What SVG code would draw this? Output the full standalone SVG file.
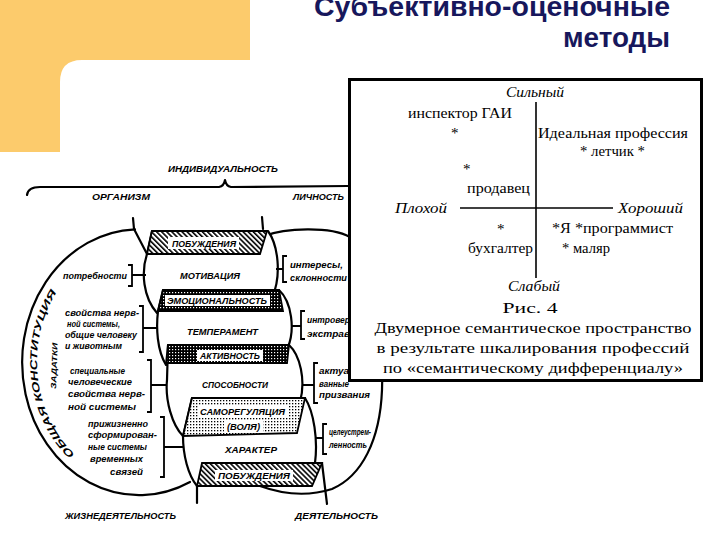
<svg xmlns="http://www.w3.org/2000/svg" width="720" height="540" viewBox="0 0 720 540">
<style>
.lb{font-family:"Liberation Sans",Arial,sans-serif;font-weight:bold;font-style:italic;font-size:8.5px;fill:#000}
.sr{font-family:"Liberation Serif","Times New Roman",serif;font-size:15px;fill:#000}
.it{font-style:italic}
.ttl{font-family:"Liberation Sans",Arial,sans-serif;font-weight:bold;font-size:27px;fill:#17175c}
.ol{fill:none;stroke:#000;stroke-width:2.2;stroke-linejoin:round;stroke-linecap:round}
.br{fill:#fff;stroke:#000;stroke-width:2.2;stroke-linejoin:round}
.ln{stroke:#000;stroke-width:1.8;fill:none}
.lbl{fill:#fff}
</style>
<defs>
<pattern id="hatch" width="3.6" height="3.6" patternUnits="userSpaceOnUse" patternTransform="rotate(-45)"><rect width="3.6" height="3.6" fill="#fff"/><rect x="0" y="0" width="1.6" height="3.6" fill="#000"/></pattern>
<pattern id="check" width="3" height="3" patternUnits="userSpaceOnUse"><rect width="3" height="3" fill="#000"/><rect x="1" y="1" width="1.2" height="1.2" fill="#fff"/></pattern>
<pattern id="dots" width="3" height="3" patternUnits="userSpaceOnUse"><rect width="3" height="3" fill="#fff"/><rect x="1" y="1" width="1.3" height="1.3" fill="#000"/></pattern>
<path id="arcL" d="M 140,481 A 103,119 0 0,1 140,243"/>
</defs>
<rect width="720" height="540" fill="#fff"/>
<path id="corner" d="M0,0 H250 V60 H82 Q60,60 60,82 V152 H0 Z" fill="#fccb6c"/>
<g id="title">
<text class="ttl" x="670" y="16" text-anchor="end" textLength="356" lengthAdjust="spacingAndGlyphs">Субъективно-оценочные</text>
<text class="ttl" x="670" y="47" text-anchor="end" textLength="107" lengthAdjust="spacingAndGlyphs">методы</text>
</g>

<g id="scheme">
<g id="top-labels">
<text class="lb" x="168" y="172" textLength="110" lengthAdjust="spacingAndGlyphs">ИНДИВИДУАЛЬНОСТЬ</text>
<path class="ol" d="M27,195 Q28,187 40,187 L219,187 Q224,186 225,180 Q226,186 231,187 L348,186"/>
<text class="lb" x="92" y="200" textLength="58" lengthAdjust="spacingAndGlyphs">ОРГАНИЗМ</text>
<text class="lb" x="293" y="200" textLength="51" lengthAdjust="spacingAndGlyphs">ЛИЧНОСТЬ</text>
<text class="lb" x="65" y="519" textLength="111" lengthAdjust="spacingAndGlyphs">ЖИЗНЕДЕЯТЕЛЬНОСТЬ</text>
<text class="lb" x="295" y="519" textLength="83" lengthAdjust="spacingAndGlyphs">ДЕЯТЕЛЬНОСТЬ</text>
</g>

<g id="lobes">
<path class="ol" d="M135,229.3 A117,133 0 1,0 190,482"/>
<path class="ol" d="M264,236 C285,228 330,226 350,237 C372,255 384,320 382,390 C380,440 362,476 332,489 C307,497 282,494 260,486"/>
<path class="ol" d="M133,218 L134,229 L147,254"/>
<path class="ol" d="M262,217 L263,229"/>
<path class="ol" d="M197,486 L197,503"/>
<path class="ol" d="M322,463 L327,504"/>
<text class="lb" style="font-size:10px"><textPath href="#arcL" startOffset="72" textLength="176" lengthAdjust="spacingAndGlyphs">ОБЩАЯ КОНСТИТУЦИЯ</textPath></text>
<text class="lb" style="font-size:7.5px" transform="translate(56,389) rotate(-88)" textLength="46" lengthAdjust="spacingAndGlyphs">ЗАДАТКИ</text>
</g>

<g id="motivation">
<path class="br" d="M152,231 L268,231 C278,245 282,275 272,298 L157,313 C143,297 141,272 147,254 Z"/>
<path d="M152,231 L267,231 L260,254 L147,254 Z" fill="url(#hatch)" stroke="#000" stroke-width="1.8"/>
<rect class="lbl" x="168" y="237" width="71" height="12"/>
<text class="lb" x="172" y="246.5" textLength="64" lengthAdjust="spacingAndGlyphs">ПОБУЖДЕНИЯ</text>
<text class="lb" x="180" y="279" textLength="60" lengthAdjust="spacingAndGlyphs">МОТИВАЦИЯ</text>
</g>

<g id="temperament">
<path class="br" d="M163,290 L279,290 C292,302 295,330 288,347 L166,365 C157,350 156,328 158,311 Z"/>
<path d="M163,290 L279,290 L283,311 L158,311 Z" fill="url(#check)" stroke="#000" stroke-width="1.8"/>
<rect class="lbl" x="165" y="295" width="105" height="11"/>
<text class="lb" x="167" y="304" textLength="100" lengthAdjust="spacingAndGlyphs">ЭМОЦИОНАЛЬНОСТЬ</text>
<text class="lb" x="187" y="335" textLength="71" lengthAdjust="spacingAndGlyphs">ТЕМПЕРАМЕНТ</text>
</g>

<g id="abilities">
<path class="br" d="M168,345 L289,345 C300,355 306,380 300,402 L183,436 C172,425 165,400 167,380 Z"/>
<path d="M168,345 L289,345 L287,363 L166,363 Z" fill="url(#check)" stroke="#000" stroke-width="1.8"/>
<rect class="lbl" x="197" y="350" width="66" height="11"/>
<text class="lb" x="200" y="359" textLength="60" lengthAdjust="spacingAndGlyphs">АКТИВНОСТЬ</text>
<text class="lb" x="202" y="388" textLength="66" lengthAdjust="spacingAndGlyphs">СПОСОБНОСТИ</text>
</g>

<g id="character">
<path class="br" d="M192,398 L305,398 C314,412 318,440 315,463 L197,486 C188,475 183,455 183,436 Z"/>
<path d="M192,398 L305,398 L297,433 L183,436 Z" fill="url(#dots)" stroke="#000" stroke-width="1.8"/>
<rect class="lbl" x="198" y="406" width="90" height="11"/>
<text class="lb" x="200" y="415" textLength="85" lengthAdjust="spacingAndGlyphs">САМОРЕГУЛЯЦИЯ</text>
<rect class="lbl" x="224" y="421" width="39" height="11"/>
<text class="lb" x="227" y="430" textLength="33" lengthAdjust="spacingAndGlyphs">(ВОЛЯ)</text>
<text class="lb" x="225" y="453" textLength="52" lengthAdjust="spacingAndGlyphs">ХАРАКТЕР</text>
<path d="M202,463 L322,463 L312,486 L197,486 Z" fill="url(#hatch)" stroke="#000" stroke-width="1.8"/>
<rect class="lbl" x="215" y="470" width="78" height="11"/>
<text class="lb" x="218" y="479" textLength="72" lengthAdjust="spacingAndGlyphs">ПОБУЖДЕНИЯ</text>
</g>

<g id="connectors">
<path class="ln" d="M128,265 H132 V286 H128 M132,275 H146"/>
<path class="ln" d="M139,306 H143 V352 H139 M143,328 H158"/>
<path class="ln" d="M147,360 H151 V412 H147 M151,385 H167"/>
<path class="ln" d="M160,417 H164 V477 H160 M164,447 H184"/>
<path class="ln" d="M287,256 H283 V282 H287 M283,269 H276"/>
<path class="ln" d="M305,311 H301 V339 H305 M301,326 H291"/>
<path class="ln" d="M318,363 H314 V403 H318 M314,385 H302"/>
<path class="ln" d="M327,424 H323 V454 H327 M323,438 H316"/>
</g>

<g id="side-texts">
<text class="lb" x="63" y="279" textLength="64" lengthAdjust="spacingAndGlyphs">потребности</text>
<text class="lb" x="65" y="316" textLength="74" lengthAdjust="spacingAndGlyphs">свойства нерв-</text>
<text class="lb" x="67" y="327" textLength="53" lengthAdjust="spacingAndGlyphs">ной системы,</text>
<text class="lb" x="65" y="338" textLength="72" lengthAdjust="spacingAndGlyphs">общие человеку</text>
<text class="lb" x="65" y="349" textLength="57" lengthAdjust="spacingAndGlyphs">и животным</text>
<text class="lb" x="70" y="374" textLength="55" lengthAdjust="spacingAndGlyphs">специальные</text>
<text class="lb" x="68" y="385" textLength="64" lengthAdjust="spacingAndGlyphs">человеческие</text>
<text class="lb" x="68" y="397" textLength="77" lengthAdjust="spacingAndGlyphs">свойства нерв-</text>
<text class="lb" x="68" y="410" textLength="68" lengthAdjust="spacingAndGlyphs">ной системы</text>
<text class="lb" x="88" y="427" textLength="60" lengthAdjust="spacingAndGlyphs">прижизненно</text>
<text class="lb" x="88" y="438" textLength="69" lengthAdjust="spacingAndGlyphs">сформирован-</text>
<text class="lb" x="88" y="450" textLength="59" lengthAdjust="spacingAndGlyphs">ные системы</text>
<text class="lb" x="90" y="462" textLength="53" lengthAdjust="spacingAndGlyphs">временных</text>
<text class="lb" x="110" y="475" textLength="33" lengthAdjust="spacingAndGlyphs">связей</text>
<text class="lb" x="290" y="268" textLength="53" lengthAdjust="spacingAndGlyphs">интересы,</text>
<text class="lb" x="290" y="281" textLength="57" lengthAdjust="spacingAndGlyphs">склонности</text>
<text class="lb" x="307" y="323" textLength="43" lengthAdjust="spacingAndGlyphs">интровер</text>
<text class="lb" x="307" y="337" textLength="43" lengthAdjust="spacingAndGlyphs">экстрав</text>
<text class="lb" x="319" y="374" textLength="30" lengthAdjust="spacingAndGlyphs">актуа</text>
<text class="lb" x="319" y="387" textLength="30" lengthAdjust="spacingAndGlyphs">ванные</text>
<text class="lb" x="319" y="398" textLength="51" lengthAdjust="spacingAndGlyphs">призвания</text>
<text class="lb" x="329" y="435" textLength="42" lengthAdjust="spacingAndGlyphs">целеустрем-</text>
<text class="lb" x="329" y="448" textLength="38" lengthAdjust="spacingAndGlyphs">ленность</text>
</g>
</g>

<g id="semantic-box">
<rect x="349.5" y="79.5" width="352" height="301" fill="#fff" stroke="#000" stroke-width="3"/>
<line x1="536" y1="102" x2="536" y2="278" stroke="#000" stroke-width="1.6"/>
<line x1="460" y1="208" x2="613" y2="208" stroke="#000" stroke-width="1.6"/>
<text class="sr it" x="535" y="97" text-anchor="middle" textLength="58" lengthAdjust="spacingAndGlyphs">Сильный</text>
<text class="sr" x="408" y="118" textLength="104" lengthAdjust="spacingAndGlyphs">инспектор ГАИ</text>
<text class="sr" x="451" y="138">*</text>
<text class="sr" x="538" y="138" textLength="150" lengthAdjust="spacingAndGlyphs">Идеальная профессия</text>
<text class="sr" x="580" y="156" textLength="65" lengthAdjust="spacingAndGlyphs">* летчик *</text>
<text class="sr" x="463" y="174">*</text>
<text class="sr" x="467" y="193" textLength="63" lengthAdjust="spacingAndGlyphs">продавец</text>
<text class="sr it" x="395" y="213" textLength="52" lengthAdjust="spacingAndGlyphs">Плохой</text>
<text class="sr it" x="618" y="213" textLength="65" lengthAdjust="spacingAndGlyphs">Хороший</text>
<text class="sr" x="497" y="234">*</text>
<text class="sr" x="552" y="233" textLength="121" lengthAdjust="spacingAndGlyphs">*Я  *программист</text>
<text class="sr" x="468" y="253" textLength="65" lengthAdjust="spacingAndGlyphs">бухгалтер</text>
<text class="sr" x="562" y="253" textLength="48" lengthAdjust="spacingAndGlyphs">* маляр</text>
<text class="sr it" x="534" y="291" text-anchor="middle" textLength="52" lengthAdjust="spacingAndGlyphs">Слабый</text>
<text class="sr" x="530" y="313" text-anchor="middle" textLength="55" lengthAdjust="spacingAndGlyphs">Рис. 4</text>
<text class="sr" x="533" y="333" text-anchor="middle" textLength="317" lengthAdjust="spacingAndGlyphs">Двумерное семантическое пространство</text>
<text class="sr" x="533" y="353" text-anchor="middle" textLength="313" lengthAdjust="spacingAndGlyphs">в результате шкалирования профессий</text>
<text class="sr" x="533" y="373" text-anchor="middle" textLength="300" lengthAdjust="spacingAndGlyphs">по «семантическому дифференциалу»</text>
</g>
</svg>
